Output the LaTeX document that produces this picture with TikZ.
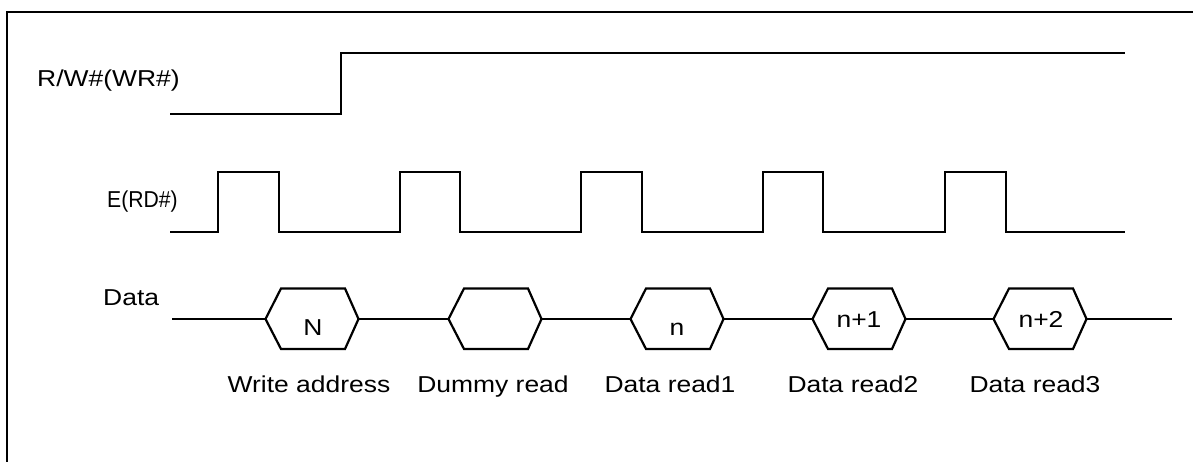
\documentclass[tikz,border=0pt]{standalone}
\usepackage{fontspec}
\setmainfont[FakeStretch=1.15]{Liberation Sans}
\begin{document}
\begin{tikzpicture}[x=1pt,y=-1pt,
  wave/.style={line width=2.2pt,line join=miter},
  frame/.style={line width=1.8pt},
  lbl/.style={font=\fontsize{23}{26}\selectfont,inner sep=0pt},
  hexlbl/.style={font=\fontsize{23}{26}\selectfont,inner sep=0pt,anchor=base}]
\useasboundingbox (0,0) rectangle (1193,462);
% frame (top and left edges only)
\draw[frame] (7,462) -- (7,12) -- (1193,12);
% labels
\node[lbl,anchor=base west] (rwlbl) at (37,87) {R/W\#(WR\#)};
\node[lbl,anchor=base west] (elbl) at (107,208) {\scalebox{0.8}[1]{E(RD\#)}};
\node[lbl,anchor=base west] (dlbl) at (103,305) {Data};
% R/W# waveform
\draw[wave] (170,114) -- (341,114) -- (341,53) -- (1125,53);
% E(RD#) waveform
\draw[wave] (170,232)
  -- (218,232) -- (218,172) -- (279,172) -- (279,232)
  -- (400,232) -- (400,172) -- (460,172) -- (460,232)
  -- (581,232) -- (581,172) -- (642,172) -- (642,232)
  -- (763,232) -- (763,172) -- (823,172) -- (823,232)
  -- (945,232) -- (945,172) -- (1006,172) -- (1006,232)
  -- (1125,232);
% Data bus
\coordinate (dstart) at (172,319);
\coordinate (dend) at (1172,319);
\foreach \i/\cx in {1/312,2/495,3/677,4/859,5/1040}{
  \coordinate (hl\i) at (\cx-46.5,319);
  \coordinate (hr\i) at (\cx+46.5,319);
  \draw[wave] (hl\i) -- (\cx-31,288.5) -- (\cx+33,288.5) -- (hr\i)
    -- (\cx+33,349) -- (\cx-31,349) -- cycle;
}
\draw[wave] (dstart) -- (hl1);
\draw[wave] (hr1) -- (hl2);
\draw[wave] (hr2) -- (hl3);
\draw[wave] (hr3) -- (hl4);
\draw[wave] (hr4) -- (hl5);
\draw[wave] (hr5) -- (dend);
% hex labels
\node[hexlbl] (tN) at (313,335) {N};
\node[hexlbl] (tn) at (677,335) {n};
\node[hexlbl] (tn1) at (859,327) {n+1};
\node[hexlbl] (tn2) at (1041,327) {n+2};
% bottom labels
\node[hexlbl] (b1) at (309,392) {Write address};
\node[hexlbl] (b2) at (493,392) {Dummy read};
\node[hexlbl] (b3) at (670,392) {Data read1};
\node[hexlbl] (b4) at (853,392) {Data read2};
\node[hexlbl] (b5) at (1035,392) {Data read3};
\end{tikzpicture}
\end{document}
